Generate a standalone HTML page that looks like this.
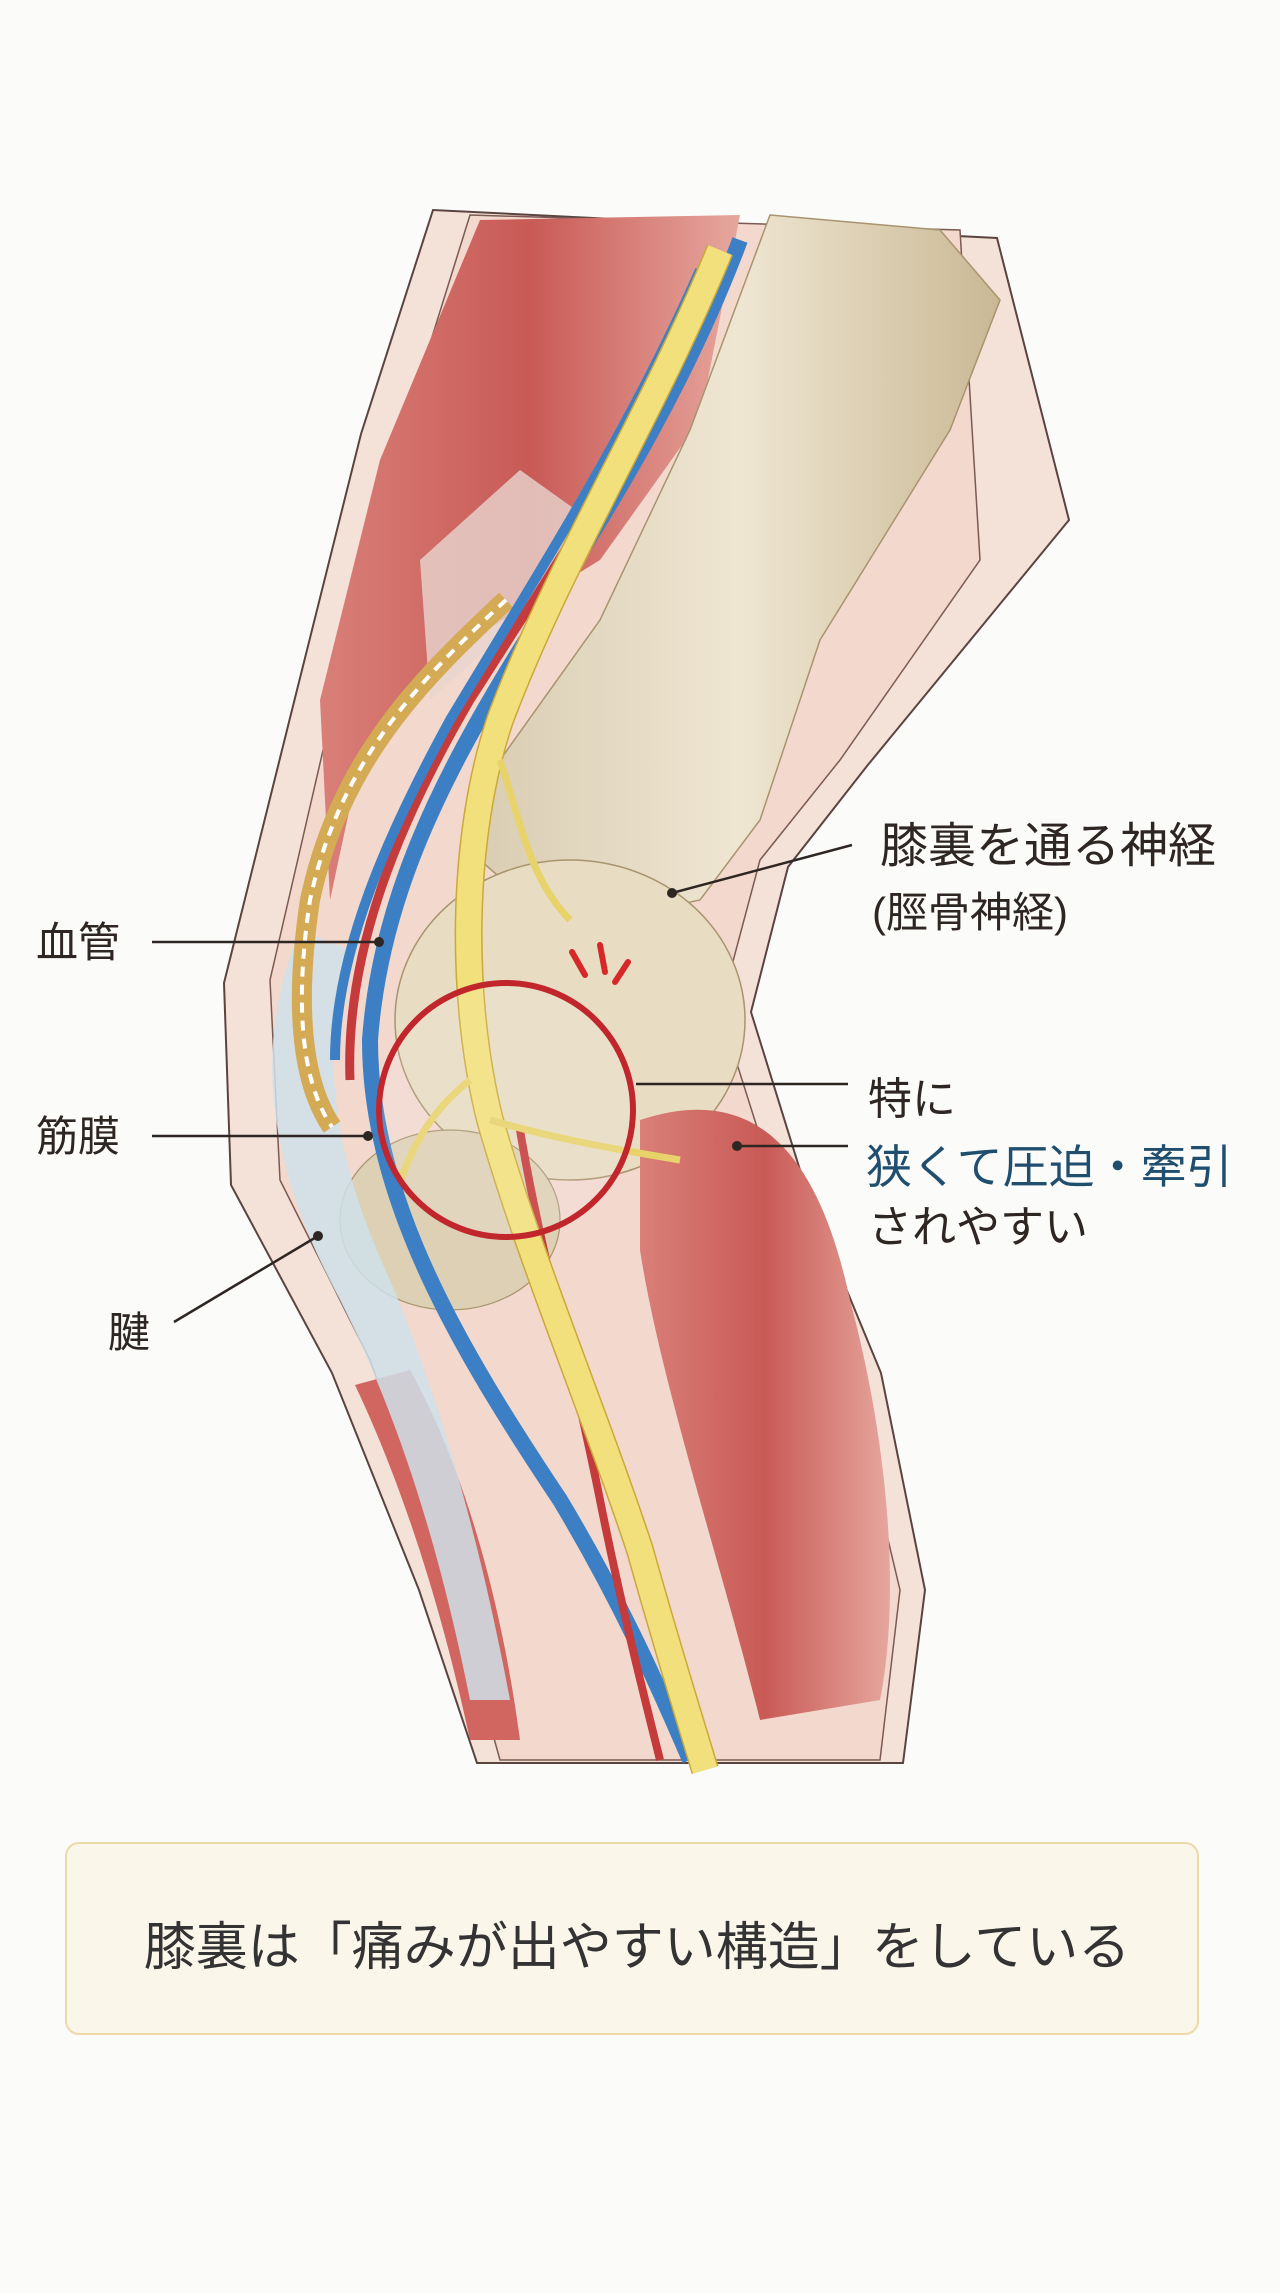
<!DOCTYPE html>
<html><head><meta charset="utf-8"><style>
html,body{margin:0;padding:0;background:#fbfbfa;}
body{width:1280px;height:2293px;position:relative;overflow:hidden;font-family:"Liberation Sans","Noto Sans CJK JP",sans-serif;color:#2e2622;}
.t{position:absolute;white-space:nowrap;line-height:1;}
</style></head><body>
<svg width="1280" height="2293" style="position:absolute;left:0;top:0">
<defs>
<linearGradient id="mus" x1="0" y1="0" x2="1" y2="0">
<stop offset="0" stop-color="#d97f78"/><stop offset="0.5" stop-color="#c95a56"/><stop offset="1" stop-color="#e6a79e"/></linearGradient>
<linearGradient id="bone" x1="0" y1="0" x2="1" y2="0">
<stop offset="0" stop-color="#d9cdb3"/><stop offset="0.5" stop-color="#efe6d2"/><stop offset="1" stop-color="#c9b894"/></linearGradient>
</defs>
<path d="M433,210 L361,434 L289,722 L224,983 L231,1185 L332,1373 L419,1590 L477,1763 L903,1763 L925,1590 L881,1373 L809,1199 L751,1012 L788,867 L867,766 L1069,520 L997,238 Z" fill="#f4e1d8" stroke="#5a4440" stroke-width="2"/>
<path d="M470,215 L400,440 L330,720 L270,980 L280,1180 L370,1360 L450,1580 L500,1760 L880,1760 L900,1590 L850,1380 L780,1200 L720,1010 L760,860 L840,760 L980,560 L960,230 Z" fill="#f2d8cd" stroke="#7a5a52" stroke-width="1.5"/>
<path d="M480,220 L740,215 L700,420 L600,560 L470,640 L360,760 L330,900 L320,700 L380,460 Z" fill="url(#mus)"/>
<path d="M420,560 L520,470 L590,520 L520,620 L430,700 Z" fill="#e8d6cf" opacity="0.8"/>
<path d="M770,215 L940,230 L1000,300 L950,430 L820,640 L760,820 L700,900 L560,930 L480,860 L500,760 L600,620 L690,430 Z" fill="url(#bone)" stroke="#a8946e" stroke-width="1.5"/>
<ellipse cx="570" cy="1020" rx="175" ry="160" fill="#e8dcc3" stroke="#a8946e" stroke-width="1.5"/>
<ellipse cx="450" cy="1220" rx="110" ry="90" fill="#ddd0b5" stroke="#a8946e" stroke-width="1.2"/>
<path d="M640,1120 C760,1080 820,1160 850,1300 C890,1450 900,1600 880,1700 L760,1720 C720,1560 660,1380 640,1250 Z" fill="url(#mus)"/>
<path d="M410,1370 C460,1460 500,1590 520,1740 L470,1740 C440,1600 400,1480 355,1385 Z" fill="#d0665f"/>
<path d="M300,930 C250,1050 270,1170 340,1300 C400,1420 440,1550 470,1700 L510,1700 C480,1540 440,1400 390,1280 C330,1150 320,1050 350,950 Z" fill="#cfe0ea" opacity="0.85"/>
<path d="M506,600 C420,680 340,760 310,900 C295,1000 300,1080 332,1127" fill="none" stroke="#d4aa55" stroke-width="20"/>
<path d="M506,600 C420,680 340,760 310,900 C295,1000 300,1080 332,1127" fill="none" stroke="#fff" stroke-width="4" stroke-dasharray="10 8"/>
<path d="M740,240 C680,400 600,520 520,650 C440,780 380,900 370,1040 C370,1200 460,1350 560,1500 C620,1600 660,1690 690,1760" fill="none" stroke="#3d7fc4" stroke-width="16"/>
<path d="M720,260 C650,420 560,560 470,700 C400,820 345,950 350,1080" fill="none" stroke="#c53a3a" stroke-width="9"/>
<path d="M700,270 C630,430 540,570 450,720 C390,830 335,950 335,1060" fill="none" stroke="#3d7fc4" stroke-width="10"/>
<path d="M520,1130 C540,1250 570,1350 600,1500 C620,1600 640,1680 660,1760" fill="none" stroke="#c53a3a" stroke-width="8"/>
<path d="M720,250 C650,420 560,560 500,720 C460,840 460,1000 490,1120 C530,1260 590,1400 640,1550 C665,1640 690,1720 705,1770" fill="none" stroke="#c9a93a" stroke-width="28"/>
<path d="M720,250 C650,420 560,560 500,720 C460,840 460,1000 490,1120 C530,1260 590,1400 640,1550 C665,1640 690,1720 705,1770" fill="none" stroke="#f2e07c" stroke-width="25"/>
<path d="M500,760 C520,820 530,880 570,920 M490,1120 C560,1140 620,1150 680,1160 M470,1080 C420,1120 410,1160 400,1180" fill="none" stroke="#e8d26a" stroke-width="7"/>
<circle cx="506" cy="1110" r="127" fill="rgba(255,255,255,0.12)" stroke="#c2262d" stroke-width="6"/>
<path d="M572,952 L585,975 M600,945 L605,972 M628,962 L615,982" stroke="#d62828" stroke-width="6" stroke-linecap="round"/>
<g stroke="#2e2622" stroke-width="2.5">
<line x1="152" y1="942" x2="379" y2="942"/>
<line x1="152" y1="1136" x2="368" y2="1136"/>
<line x1="174" y1="1322" x2="318" y2="1236"/>
<line x1="672" y1="893" x2="852" y2="845"/>
<line x1="636" y1="1084" x2="848" y2="1084"/>
<line x1="737" y1="1146" x2="848" y2="1146"/>
</g>
<g fill="#2e2622"><circle cx="379" cy="942" r="5"/><circle cx="368" cy="1136" r="5"/><circle cx="318" cy="1236" r="5"/><circle cx="672" cy="893" r="5"/><circle cx="737" cy="1146" r="5"/></g>
</svg>
<div class="t" style="left:36px;top:922px;font-size:42px">血管</div>
<div class="t" style="left:36px;top:1116px;font-size:42px">筋膜</div>
<div class="t" style="left:108px;top:1312px;font-size:42px">腱</div>
<div class="t" style="left:880px;top:823px;font-size:48px">膝裏を通る神経</div>
<div class="t" style="left:872px;top:892px;font-size:42px">(脛骨神経)</div>
<div class="t" style="left:868px;top:1078px;font-size:44px">特に</div>
<div class="t" style="left:866px;top:1144px;font-size:46px;color:#1f4e6e">狭くて圧迫・牽引</div>
<div class="t" style="left:868px;top:1206px;font-size:44px">されやすい</div>
<div style="position:absolute;left:65px;top:1842px;width:1130px;height:189px;background:#fbf6ea;border:2px solid #ecd9a8;border-radius:14px;"></div>
<div class="t" style="left:70px;width:1134px;text-align:center;top:1922px;font-size:52px;color:#333">膝裏は「痛みが出やすい構造」をしている</div>
</body></html>
